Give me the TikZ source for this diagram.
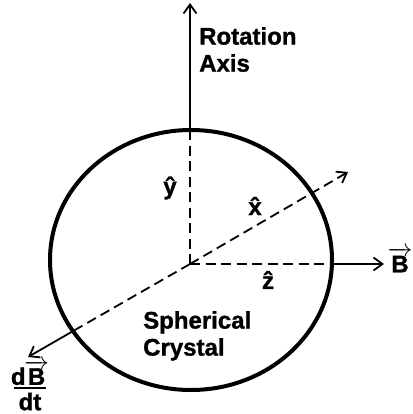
\documentclass[tikz,border=0pt]{standalone}
\usepackage{fontspec}
\setmainfont{Liberation Sans}[BoldFeatures={FakeBold=1.2}]
\usetikzlibrary{arrows.meta,shapes.geometric}
\newcommand\myvecB{\ensuremath{\overrightarrow{\hbox{B}}}}
\begin{document}
\begin{tikzpicture}[x=1pt,y=-1pt,
  lbl/.style={font=\fontsize{24}{27}\selectfont\bfseries, inner sep=0pt},
  axis/.style={line width=1.8pt},
  dsh/.style={line width=1.8pt, dash pattern=on 10pt off 5.5pt},
  tip/.style={-{Straight Barb[length=9pt,width=13pt,line width=1.8pt]}}]
\useasboundingbox (0,0) rectangle (412,414);
% crystal
\node[ellipse, draw, line width=4pt, minimum width=282pt, minimum height=260pt, inner sep=0pt] (crystal) at (191,260) {};
% coordinates
\coordinate (o) at (190,264);
\coordinate (ytop) at (190,130);
\coordinate (yend) at (190,3);
\coordinate (zc) at (332,264);
\coordinate (zend) at (384,264);
\coordinate (xend) at (348,172);
\coordinate (dc) at (72.5,331.4);
\coordinate (dend) at (28,357);
% axes
\draw[dsh] (o) -- (ytop);
\draw[axis,tip] (ytop) -- (yend);
\draw[dsh] (o) -- (zc);
\draw[axis,tip] (zc) -- (zend);
\draw[dsh,tip] (o) -- (xend);
\draw[dsh] (o) -- (dc);
\draw[axis,tip] (dc) -- (dend);
% labels
\node[lbl, anchor=north west, align=left] (rot) at (199,27) {Rotation\\Axis};
\node[lbl, anchor=north west, align=left] (sph) at (143,311) {Spherical\\Crystal};
\node[lbl] (yh) at (170,188) {\^{y}};
\node[lbl] (xh) at (255,206) {\^{x}};
\node[lbl] (zh) at (268,280) {\^{z}};
\node[lbl] (B) at (400,260) {\myvecB};
\node[lbl, anchor=north] (dBdt) at (30,360) {\vbox{\offinterlineskip\halign{\hfil#\hfil\cr
  d\kern-1.5pt\myvecB\cr\noalign{\kern2pt}
  \rule{32pt}{2.2pt}\cr\noalign{\kern3.5pt}
  dt\cr}}};
\end{tikzpicture}
\end{document}
